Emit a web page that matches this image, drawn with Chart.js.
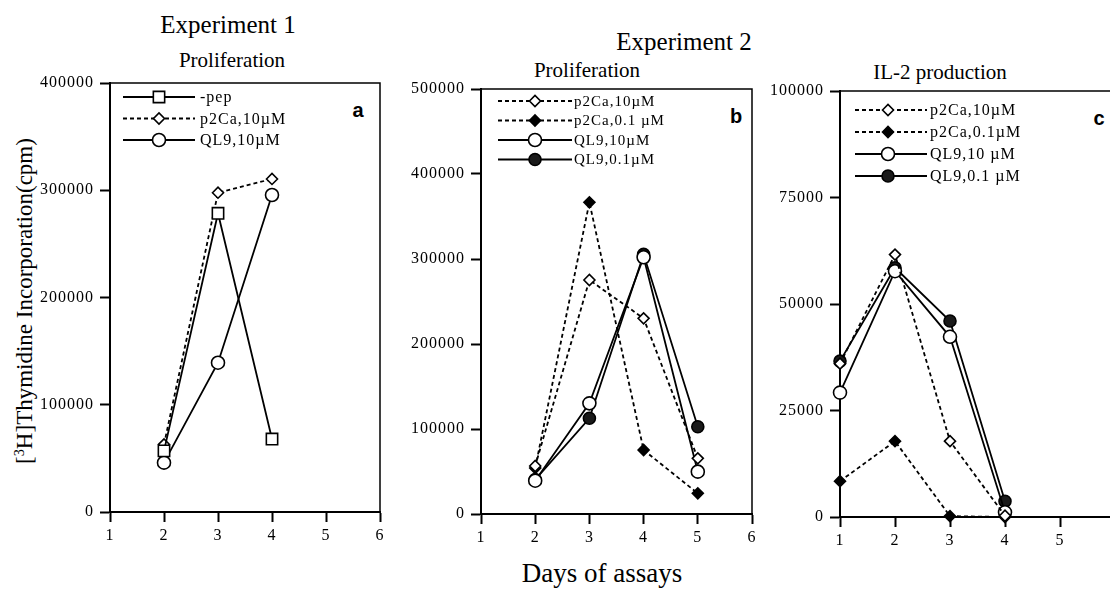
<!DOCTYPE html>
<html>
<head>
<meta charset="utf-8">
<script src="https://cdn.jsdelivr.net/npm/chart.js@4.4.1/dist/chart.umd.min.js"></script>
<style>
  html, body { margin: 0; padding: 0; background: #fff; }
  body { width: 1110px; height: 589px; overflow: hidden; position: relative; font-family: 'Liberation Serif', 'Times New Roman', serif; color: #000; }
  canvas { position: absolute; }
  .lbl { position: absolute; white-space: nowrap; line-height: 1.107; transform: translate(-50%, -50%); }
  .tag { font-family: 'Liberation Sans', Arial, sans-serif; font-weight: bold; }
  #ytitle { transform: translate(-50%, -50%) rotate(-90deg); }
  sup { font-size: 0.62em; vertical-align: 0.55em; line-height: 0; }
</style>
</head>
<body>
<div class="lbl" style="left:228px; top:25px; font-size:25px">Experiment 1</div>
<div class="lbl" style="left:684px; top:42px; font-size:25px">Experiment 2</div>
<div class="lbl" style="left:232px; top:61px; font-size:21px">Proliferation</div>
<div class="lbl" style="left:587px; top:71px; font-size:21px">Proliferation</div>
<div class="lbl" style="left:940px; top:73px; font-size:21px">IL-2 production</div>
<div class="lbl" style="left:602px; top:574px; font-size:27px">Days of assays</div>
<div class="lbl" id="ytitle" style="left:25px; top:301px; font-size:23px">[<sup>3</sup>H]Thymidine Incorporation(cpm)</div>
<div class="lbl tag" style="left:358px; top:110px; font-size:20px">a</div>
<div class="lbl tag" style="left:736px; top:116px; font-size:20px">b</div>
<div class="lbl tag" style="left:1099px; top:118px; font-size:20px">c</div>

<canvas id="chartA" width="370" height="500" style="left:30px; top:60px"></canvas>
<canvas id="chartB" width="365" height="490" style="left:405px; top:70px"></canvas>
<canvas id="chartC" width="380" height="490" style="left:755px; top:70px"></canvas>

<script>
// Experiment 1, proliferation
const daysA = [2, 3, 4];
const pepA = [57000, 278500, 68000];
const p2Ca10A = [63000, 297700, 310500];
const ql910A = [46000, 139200, 295600];

// Experiment 2, proliferation
const daysB = [2, 3, 4, 5];
const p2Ca10B = [56500, 275300, 230200, 65500];
const p2Ca01B = [54000, 366700, 75300, 24300];
const ql910B = [39200, 130200, 302000, 49800];
const ql901B = [40500, 112600, 305500, 102700];

// Experiment 2, IL-2 production
const daysC = [1, 2, 3, 4];
const p2Ca10C = [36000, 61600, 17800, 300];
const p2Ca01C = [8400, 17800, 200, 0];
const ql910C = [29200, 57700, 42300, 1100];
const ql901C = [36600, 58500, 46000, 3700];

const SERIF = "'Liberation Serif', 'Times New Roman', serif";
Chart.defaults.font.family = SERIF;
Chart.defaults.font.size = 16;

const styles = {
    pep: { pointStyle: 'rect', pointRadius: 8, pointBackgroundColor: '#fff' },
    p2Ca10: { pointStyle: 'rectRot', pointRadius: 5.5, pointBackgroundColor: '#fff', borderDash: [4, 3] },
    p2Ca01: { pointStyle: 'rectRot', pointRadius: 5.5, pointBackgroundColor: '#000', borderDash: [4, 3] },
    ql910: { pointStyle: 'circle', pointRadius: 6.5, pointBackgroundColor: '#fff' },
    ql901: { pointStyle: 'circle', pointRadius: 6, pointBackgroundColor: '#1a1a1a' }
};

function makeSet(label, days, values, style) {
    return Object.assign({
        label: label,
        data: days.map((d, i) => ({ x: d, y: values[i] })),
        borderColor: '#000',
        pointBorderColor: '#000',
        borderWidth: 1.8,
        pointBorderWidth: 1.6,
        tension: 0,
        fill: false,
        clip: false
    }, style);
}

// top and right edges of the plot box
const framePlugin = {
    id: 'frame',
    afterDraw(chart) {
        const { ctx, chartArea: a } = chart;
        ctx.save();
        ctx.strokeStyle = '#000';
        ctx.lineWidth = 1.5;
        ctx.beginPath();
        ctx.moveTo(a.left, a.top);
        ctx.lineTo(a.right, a.top);
        ctx.lineTo(a.right, a.bottom);
        ctx.stroke();
        ctx.restore();
    }
};

// wider digits on the tick labels, like the scan
const spacingPlugin = {
    id: 'spacing',
    beforeDraw(chart) { chart.ctx.letterSpacing = '1px'; },
    afterDatasetsDraw(chart) { chart.ctx.letterSpacing = '0px'; }
};

// legend drawn inside the box: line sample, marker, label
const legendPlugin = {
    id: 'boxLegend',
    afterDraw(chart, args, opts) {
        const { ctx, chartArea: a } = chart;
        ctx.save();
        chart.data.datasets.forEach((ds, i) => {
            const y = a.top + opts.top + i * opts.gap;
            ctx.strokeStyle = '#000';
            ctx.lineWidth = ds.borderWidth;
            ctx.setLineDash(ds.borderDash || []);
            ctx.beginPath();
            ctx.moveTo(a.left + opts.x0, y);
            ctx.lineTo(a.left + opts.x1, y);
            ctx.stroke();
            ctx.setLineDash([]);
            ctx.fillStyle = ds.pointBackgroundColor;
            ctx.lineWidth = ds.pointBorderWidth;
            Chart.helpers.drawPoint(ctx, {
                pointStyle: ds.pointStyle,
                radius: ds.pointRadius,
                borderWidth: ds.pointBorderWidth,
                rotation: 0
            }, a.left + opts.xm, y);
            ctx.fillStyle = '#000';
            ctx.font = opts.size + 'px ' + SERIF;
            ctx.letterSpacing = '1px';
            ctx.textBaseline = 'middle';
            ctx.textAlign = 'left';
            ctx.fillText(ds.label, a.left + opts.tx, y + 1);
        });
        ctx.restore();
    }
};

function drawPanel(id, area, yMax, yStep, datasets, legend) {
    const canvas = document.getElementById(id);
    const box = { left: canvas.offsetLeft, top: canvas.offsetTop, width: canvas.width, height: canvas.height };
    return new Chart(canvas, {
        type: 'line',
        data: { datasets: datasets },
        options: {
            responsive: false,
            animation: false,
            devicePixelRatio: 1,
            layout: {
                padding: { left: 0, bottom: 0, top: area.top - box.top, right: box.left + box.width - area.right }
            },
            scales: {
                x: {
                    type: 'linear', min: 1, max: 6,
                    afterFit: s => { s.height = box.top + box.height - area.bottom; },
                    ticks: { stepSize: 1, color: '#000', font: { size: 16 }, padding: 4 },
                    grid: { drawOnChartArea: false, tickLength: 10, tickWidth: 2, tickColor: '#000' },
                    border: { color: '#000', width: 2 }
                },
                y: {
                    type: 'linear', min: 0, max: yMax,
                    afterFit: s => { s.width = area.left - box.left; },
                    ticks: { stepSize: yStep, color: '#000', font: { size: 16 }, padding: 6, callback: v => String(v) },
                    grid: { drawOnChartArea: false, tickLength: 10, tickWidth: 2, tickColor: '#000' },
                    border: { color: '#000', width: 2 }
                }
            },
            plugins: {
                legend: { display: false },
                tooltip: { enabled: false },
                boxLegend: legend
            }
        },
        plugins: [spacingPlugin, framePlugin, legendPlugin]
    });
}

drawPanel('chartA', { left: 110, top: 83, right: 380, bottom: 512 }, 400000, 100000, [
    makeSet('-pep', daysA, pepA, styles.pep),
    makeSet('p2Ca,10\u00b5M', daysA, p2Ca10A, styles.p2Ca10),
    makeSet('QL9,10\u00b5M', daysA, ql910A, styles.ql910)
], { x0: 13, xm: 49, x1: 85, tx: 90, top: 14, gap: 21.5, size: 16 });

drawPanel('chartB', { left: 481, top: 89, right: 752, bottom: 514 }, 500000, 100000, [
    makeSet('p2Ca,10\u00b5M', daysB, p2Ca10B, styles.p2Ca10),
    makeSet('p2Ca,0.1 \u00b5M', daysB, p2Ca01B, styles.p2Ca01),
    makeSet('QL9,10\u00b5M', daysB, ql910B, styles.ql910),
    makeSet('QL9,0.1\u00b5M', daysB, ql901B, styles.ql901)
], { x0: 17, xm: 54, x1: 91, tx: 93, top: 12, gap: 19.5, size: 15 });

drawPanel('chartC', { left: 840, top: 91, right: 1115, bottom: 517 }, 100000, 25000, [
    makeSet('p2Ca,10\u00b5M', daysC, p2Ca10C, styles.p2Ca10),
    makeSet('p2Ca,0.1\u00b5M', daysC, p2Ca01C, styles.p2Ca01),
    makeSet('QL9,10 \u00b5M', daysC, ql910C, styles.ql910),
    makeSet('QL9,0.1 \u00b5M', daysC, ql901C, styles.ql901)
], { x0: 15, xm: 48, x1: 87, tx: 90, top: 19, gap: 22, size: 16 });
</script>
</body>
</html>
